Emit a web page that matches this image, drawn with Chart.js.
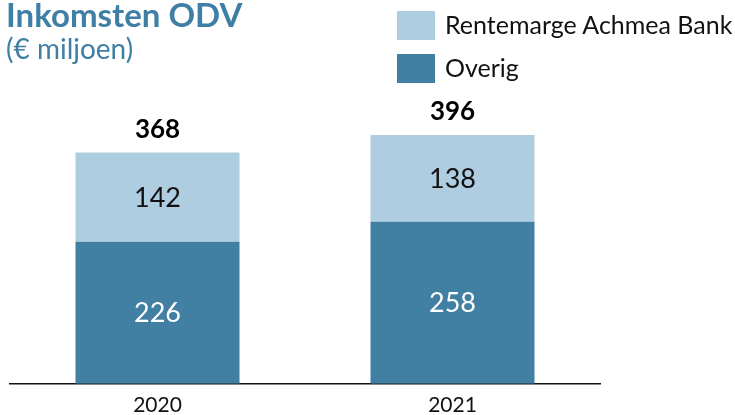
<!DOCTYPE html>
<html>
<head>
<meta charset="utf-8">
<script src="https://cdn.jsdelivr.net/npm/chart.js@4/dist/chart.umd.min.js"></script>
<style>
  html, body { margin: 0; padding: 0; background: #fff; }
  #wrap { position: relative; width: 735px; height: 415px; overflow: hidden; font-family: Lato, sans-serif; }
  #c { position: absolute; left: 0; top: 0; }
  .t1 { position: absolute; left: 6px; top: -6px; font-size: 33px; font-weight: bold; color: #3f7ea5; white-space: nowrap; }
  .t2 { position: absolute; left: 6px; top: 31px; font-size: 28px; color: #3f7ea5; white-space: nowrap; }
  .lg { position: absolute; left: 397px; width: 38px; height: 29px; }
  .lt { position: absolute; left: 445px; font-size: 25px; color: #111; white-space: nowrap; }
</style>
</head>
<body>
<div id="wrap">
  <canvas id="c" width="735" height="427"></canvas>
  <div class="t1">Inkomsten ODV</div>
  <div class="t2">(€ miljoen)</div>
  <div class="lg" style="top:11px;background:#aecde0"></div>
  <div class="lt" style="top:9px">Rentemarge Achmea Bank</div>
  <div class="lg" style="top:54px;background:#417fa3"></div>
  <div class="lt" style="top:52px">Overig</div>
</div>
<script>
const categories = ['2020', '2021'];
const overig = [226, 258];
const rentemarge = [142, 138];
const seriesNames = ['Overig', 'Rentemarge Achmea Bank'];

const DARK = '#417fa3';
const LIGHT = '#aecde0';

const labelPlugin = {
  id: 'labels',
  afterDatasetsDraw(chart) {
    const ctx = chart.ctx;
    ctx.save();
    ctx.textAlign = 'center';
    ctx.textBaseline = 'middle';
    chart.data.datasets.forEach((ds, di) => {
      const meta = chart.getDatasetMeta(di);
      meta.data.forEach((bar, i) => {
        const mid = (bar.y + bar.base) / 2;
        ctx.font = '27px Lato, sans-serif';
        ctx.fillStyle = di === 0 ? '#ffffff' : '#111111';
        ctx.fillText(String(ds.data[i]), bar.x, mid + 1);
      });
    });
    const topMeta = chart.getDatasetMeta(chart.data.datasets.length - 1);
    topMeta.data.forEach((bar, i) => {
      const total = overig[i] + rentemarge[i];
      ctx.font = 'bold 26px Lato, sans-serif';
      ctx.fillStyle = '#000000';
      ctx.fillText(String(total), bar.x, bar.y - 23);
    });
    ctx.restore();
  }
};

new Chart(document.getElementById('c'), {
  type: 'bar',
  data: {
    labels: categories,
    datasets: [
      { label: seriesNames[0], data: overig, backgroundColor: DARK, borderWidth: 0 },
      { label: seriesNames[1], data: rentemarge, backgroundColor: LIGHT, borderWidth: 0 }
    ]
  },
  options: {
    responsive: false,
    animation: false,
    events: [],
    layout: { padding: { left: 10, right: 135, top: 101, bottom: 0 } },
    datasets: { bar: { categoryPercentage: 1, barPercentage: 0.556 } },
    plugins: { legend: { display: false }, tooltip: { enabled: false }, title: { display: false } },
    scales: {
      x: {
        stacked: true,
        grid: { display: false, drawTicks: false },
        border: { display: true, color: '#111', width: 1.5 },
        ticks: { color: '#111', font: { family: 'Lato', size: 21 }, padding: 9 }
      },
      y: {
        stacked: true,
        display: false,
        min: 0,
        max: 450
      }
    }
  },
  plugins: [labelPlugin]
});
</script>
</body>
</html>
